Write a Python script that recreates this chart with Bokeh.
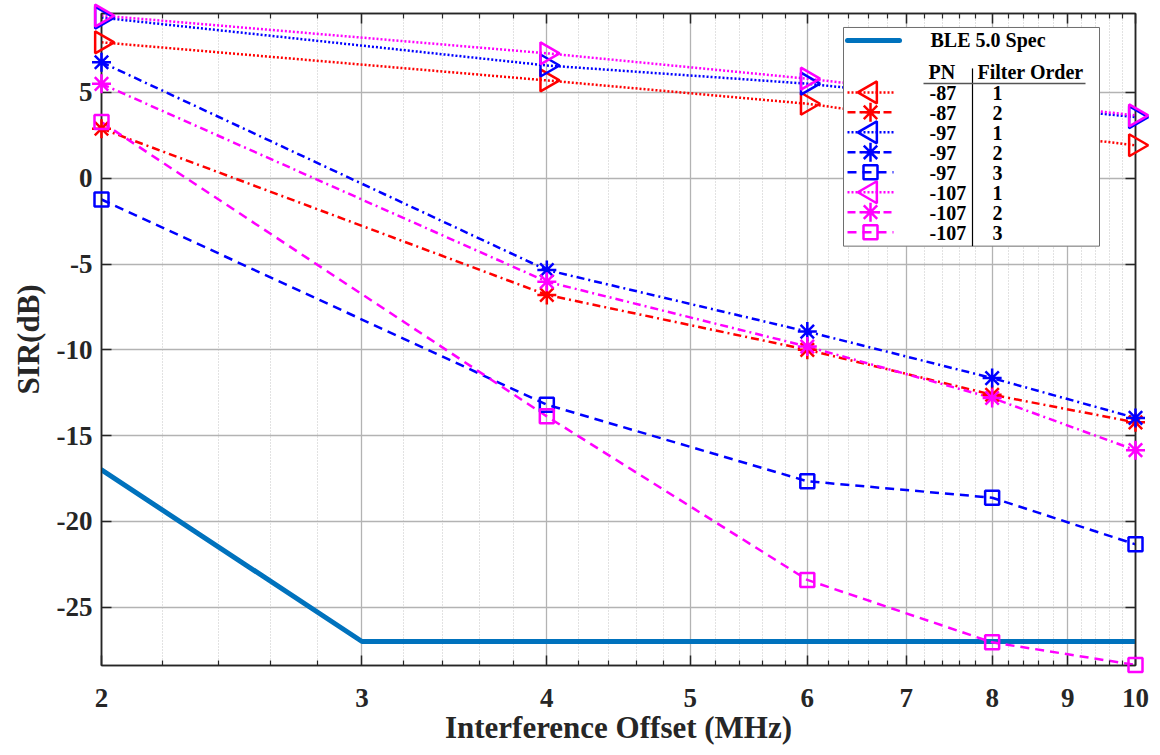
import math
import numpy as np
from bokeh.plotting import figure
from bokeh.models import Range1d, FixedTicker, LogAxis, LinearAxis, CustomJSTickFormatter
from bokeh.core.properties import value
from bokeh.embed import file_html
from bokeh.resources import INLINE

# ---------------- data ----------------
x_offsets = [2, 4, 6, 8, 10]                     # MHz
ble_x = [2, 3, 4, 6, 8, 10]
ble_y = [-17, -27, -27, -27, -27, -27]           # BLE 5.0 Spec

pn87_o1 = [7.92, 5.70, 4.34, 2.90, 1.92]
pn87_o2 = [2.89, -6.80, -10.00, -12.62, -14.23]
pn97_o1 = [9.36, 6.57, 5.51, 4.40, 3.56]
pn97_o2 = [6.76, -5.35, -8.94, -11.65, -13.97]
pn97_o3 = [-1.24, -13.20, -17.66, -18.62, -21.34]
pn107_o1 = [9.48, 7.28, 5.80, 4.60, 3.66]
pn107_o2 = [5.50, -6.03, -9.81, -12.81, -15.85]
pn107_o3 = [3.27, -13.88, -23.41, -27.05, -28.37]

series_values = [pn87_o1, pn87_o2, pn97_o1, pn97_o2, pn97_o3, pn107_o1, pn107_o2, pn107_o3]
series_pn = ["-87", "-87", "-97", "-97", "-97", "-107", "-107", "-107"]
series_order = ["1", "2", "1", "2", "3", "1", "2", "3"]

x_ticks = [2, 3, 4, 5, 6, 7, 8, 9, 10]
y_ticks = [-25, -20, -15, -10, -5, 0, 5]
x_title = "Interference Offset (MHz)"
y_title = "SIR(dB)"

# ---------------- styles ----------------
FONT = "Liberation Serif"
DARK = "#262626"
col_of = {"-87": "#FF0000", "-97": "#0000FF", "-107": "#FF00FF"}
dash_of = {"1": "2 2", "2": "8 4 2 4", "3": "9 6"}
marker_of = {"1": "triangle", "2": "asterisk", "3": "square"}
size_of = {"1": 22, "2": 19, "3": 14}

W, H = 1152, 747
BL, BR, BT, BB = 101, 17, 13, 81
FW = W - BL - BR
FH = H - BT - BB
XMIN, XMAX = 2, 10
YMIN, YMAX = -28.4, 9.6

p = figure(width=W, height=H, x_axis_type="log",
           x_range=Range1d(XMIN, XMAX), y_range=Range1d(YMIN, YMAX),
           output_backend="svg", toolbar_location=None,
           min_border_left=BL, min_border_right=BR, min_border_top=BT, min_border_bottom=BB,
           background_fill_color="white", border_fill_color="white")
p.outline_line_color = DARK
p.outline_line_width = 1.5

minor_x = [round(v, 1) for v in np.arange(2.2, 10.0, 0.2) if abs(v - round(v)) > 1e-6]
xticker = FixedTicker(ticks=x_ticks, minor_ticks=minor_x)
yticker = FixedTicker(ticks=y_ticks, minor_ticks=[])

def style_axis(ax, labels=True):
    ax.axis_line_color = DARK
    ax.axis_line_width = 1.5
    ax.major_tick_line_color = DARK
    ax.minor_tick_line_color = DARK
    ax.major_tick_line_width = 1.5
    ax.minor_tick_line_width = 1.2
    ax.major_tick_in = 10
    ax.major_tick_out = 0
    ax.minor_tick_in = 5
    ax.minor_tick_out = 0
    if labels:
        ax.major_label_text_font = FONT
        ax.major_label_text_font_style = "bold"
        ax.major_label_text_font_size = "27px"
        ax.major_label_text_color = DARK
        ax.axis_label_text_font = FONT
        ax.axis_label_text_font_style = "bold"
        ax.axis_label_text_font_size = "31px"
        ax.axis_label_text_color = DARK
    else:
        ax.major_label_text_font_size = "1px"
        ax.major_label_text_alpha = 0
        ax.major_label_standoff = 0

xa = p.xaxis[0]
xa.ticker = xticker
xa.formatter = CustomJSTickFormatter(code="return String(Math.round(tick));")
style_axis(xa)
xa.major_label_standoff = 23
xa.axis_label = x_title
xa.axis_label_standoff = 0

ya = p.yaxis[0]
ya.ticker = yticker
ya.formatter = CustomJSTickFormatter(code="return String(tick);")
style_axis(ya)
ya.major_label_standoff = 9
ya.axis_label = y_title
ya.axis_label_standoff = 8

top = LogAxis(ticker=xticker, formatter=CustomJSTickFormatter(code="return '';"))
style_axis(top, labels=False)
p.add_layout(top, "above")
right = LinearAxis(ticker=yticker, formatter=CustomJSTickFormatter(code="return '';"))
style_axis(right, labels=False)
p.add_layout(right, "right")

p.xgrid.ticker = xticker
p.xgrid.grid_line_color = "#b3b3b3"
p.xgrid.grid_line_width = 1.3
p.xgrid.minor_grid_line_color = "#c4c4c4"
p.xgrid.minor_grid_line_dash = "1 2"
p.xgrid.minor_grid_line_width = 1
p.ygrid.ticker = yticker
p.ygrid.grid_line_color = "#b3b3b3"
p.ygrid.grid_line_width = 1.3

# ---------------- data marks ----------------
p.line(ble_x, ble_y, line_color="#0072BD", line_width=5, line_cap="round")
for vals, pn, order in zip(series_values, series_pn, series_order):
    p.line(x_offsets, vals, line_color=col_of[pn], line_width=2.5, line_dash=dash_of[order])
for vals, pn, order in zip(series_values, series_pn, series_order):
    p.scatter(x_offsets, vals, marker=marker_of[order], size=size_of[order],
              angle=(-math.pi / 2 if order == "1" else 0.0),
              line_color=col_of[pn], fill_alpha=0, line_width=2.5, level="overlay")

# ---------------- legend (frame-pixel layout -> data space) ----------------
def fx(px):
    return XMIN * (XMAX / XMIN) ** (px / FW)

def fy(py):
    return YMAX - py * (YMAX - YMIN) / FH

p.quad(left=[fx(742)], right=[fx(998)], top=[fy(14)], bottom=[fy(233)],
       fill_color="white", line_color="#6e6e6e", line_width=1, level="overlay")
p.segment(x0=[fx(871)], y0=[fy(55)], x1=[fx(871)], y1=[fy(233)],
          line_color="black", line_width=1.2, level="overlay")
p.segment(x0=[fx(822)], y0=[fy(70)], x1=[fx(984)], y1=[fy(70)],
          line_color="#555555", line_width=1.5, level="overlay")
p.line([fx(746), fx(798)], [fy(27), fy(27)], line_color="#0072BD", line_width=5,
       line_cap="round", level="overlay")

txt_x, txt_y, txt_s = [], [], []
txt_x += [fx(829), fx(827), fx(876)]
txt_y += [fy(27), fy(59), fy(59)]
txt_s += ["BLE 5.0 Spec", "PN", "Filter Order"]
for i, (pn, order) in enumerate(zip(series_pn, series_order)):
    yy = fy(79 + 20 * i)
    p.line([fx(746), fx(792)], [yy, yy], line_color=col_of[pn], line_width=2.5,
           line_dash=dash_of[order], level="overlay")
    p.scatter([fx(769)], [yy], marker=marker_of[order], size=size_of[order],
              angle=(math.pi / 2 if order == "1" else 0.0),
              line_color=col_of[pn], fill_alpha=0, line_width=2.5, level="overlay")
    txt_x.append(fx(828)); txt_y.append(fy(80 + 20 * i)); txt_s.append(pn)

p.text(x=txt_x, y=txt_y, text=txt_s, text_font=value(FONT), text_font_style=value("bold"),
       text_font_size=value("20px"), text_color="black", text_baseline="middle",
       text_align="left", level="overlay")
ord_y = [fy(80 + 20 * i) for i in range(len(series_order))]
p.text(x=[fx(896)] * len(series_order), y=ord_y, text=series_order, text_font=value(FONT),
       text_font_style=value("bold"), text_font_size=value("20px"), text_color="black",
       text_baseline="middle", text_align="center", level="overlay")

open("out.html", "w").write(file_html(p, INLINE))
